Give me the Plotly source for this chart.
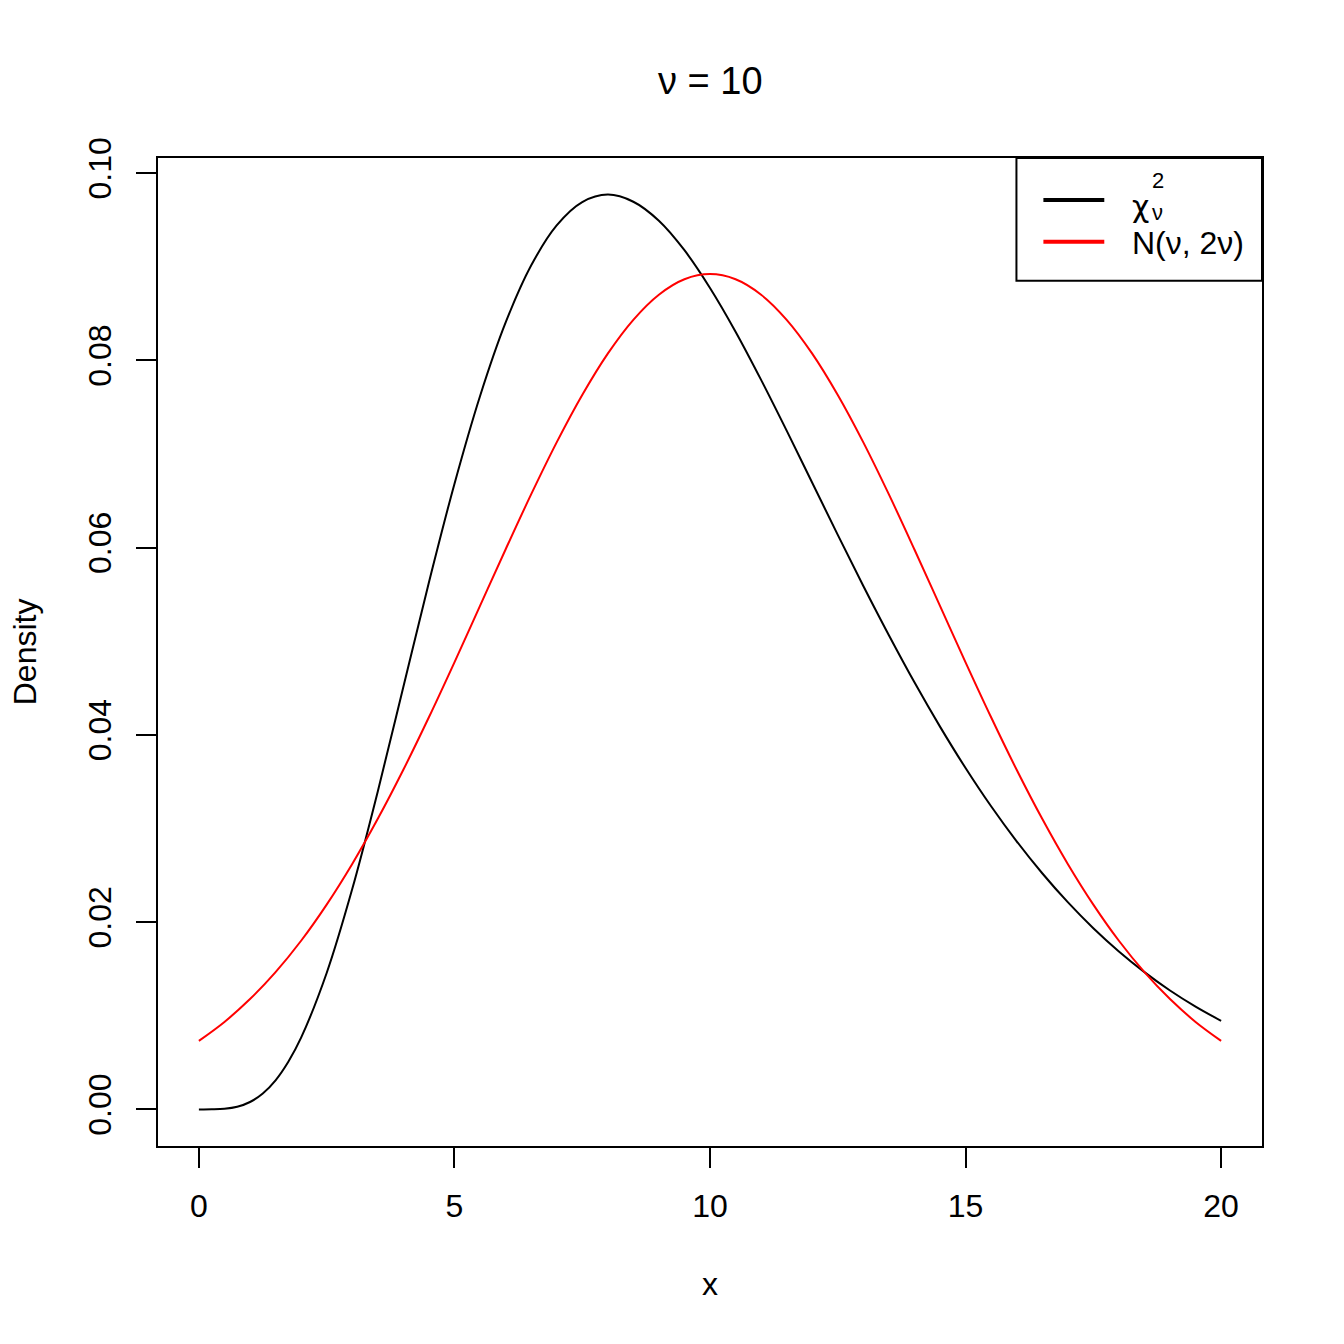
import plotly.graph_objects as go

# 读图估计的密度值
chisq_x = [0, 0.25, 0.5, 0.75, 1, 1.25, 1.5, 1.75] + [2 + i * 0.5 for i in range(37)]
chisq_dens = [0.0, 0.000005, 0.00006, 0.00028, 0.00079, 0.00170, 0.00311, 0.00509,
              0.00766, 0.01457, 0.02353, 0.03396, 0.04511, 0.05628,
              0.06680, 0.07617, 0.08402, 0.09012, 0.09441, 0.09690, 0.09770, 0.09694, 0.09491, 0.09176,
              0.08773, 0.08306, 0.07791, 0.07249, 0.06693, 0.06136, 0.05590, 0.05064, 0.04561, 0.04088,
              0.03646, 0.03237, 0.02863, 0.02522, 0.02213, 0.01935, 0.01687, 0.01466, 0.01270, 0.01098,
              0.00946]
norm_x = [i * 0.5 for i in range(41)]
norm_half = [0.00732, 0.00934, 0.01178, 0.01466, 0.01801, 0.02187, 0.02621, 0.03103, 0.03627, 0.04188,
             0.04775, 0.05378, 0.05980, 0.06568, 0.07124, 0.07630, 0.08072, 0.08433, 0.08701, 0.08866,
             0.08921]
norm_dens = norm_half + norm_half[-2::-1]

x_ticks = [0, 5, 10, 15, 20]
y_ticks = [0.0, 0.02, 0.04, 0.06, 0.08, 0.10]
y_tick_text = ['0.00', '0.02', '0.04', '0.06', '0.08', '0.10']

FONT = 'Liberation Sans'
W, H = 1344, 1344
L, R, T, B = 157, 1263, 157, 1147
OFF = 7  # 页面自带的偏移


def px(x):
    return (x - L) / (R - L)


def py(y):
    return (B - y) / (B - T)


fig = go.Figure()
fig.add_trace(go.Scatter(x=chisq_x, y=chisq_dens, mode='lines', line=dict(color='black', width=2, shape='spline')))
fig.add_trace(go.Scatter(x=norm_x, y=norm_dens, mode='lines', line=dict(color='red', width=2, shape='spline')))

axis_common = dict(showgrid=False, zeroline=False, showline=True, linecolor='black', linewidth=2,
                   mirror=True, ticks='outside', ticklen=20, tickwidth=2, tickcolor='black',
                   tickfont=dict(family=FONT, size=32, color='black'))

fig.update_layout(
    width=W, height=H,
    margin=dict(l=L - OFF, r=W - R + OFF + 2, t=T - OFF, b=H - B + OFF + 2),
    plot_bgcolor='white', paper_bgcolor='white',
    showlegend=False,
    xaxis=dict(range=[-0.8, 20.8], tickvals=x_ticks, ticklabelstandoff=11, **axis_common),
    yaxis=dict(range=[-0.00391, 0.10161], tickvals=y_ticks, ticktext=y_tick_text,
               tickangle=-90, ticklabelstandoff=12, **axis_common),
)

ann_font = dict(family=FONT, size=32, color='black')
small_font = dict(family=FONT, size=22, color='black')
annotations = [
    dict(text='ν = 10', x=px(710), y=py(80), font=dict(family=FONT, size=38, color='black')),
    dict(text='x', x=px(710), y=py(1285), font=ann_font),
    dict(text='Density', x=px(24), y=py(652), textangle=-90, font=ann_font),
    # 图例文字
    dict(text='χ', x=px(1131), y=py(206), xanchor='left', font=dict(family='DejaVu Sans', size=30, color='black')),
    dict(text='2', x=px(1151), y=py(180), xanchor='left', font=small_font),
    dict(text='ν', x=px(1151), y=py(212), xanchor='left', font=small_font),
    dict(text='N(ν, 2ν)', x=px(1131), y=py(242), xanchor='left', font=ann_font),
]
for a in annotations:
    a.setdefault('xanchor', 'center')
    fig.add_annotation(xref='paper', yref='paper', yanchor='middle', showarrow=False, **a)

# 图例框和线段
fig.add_shape(type='rect', xref='paper', yref='paper', x0=px(1017), x1=px(R), y0=py(280), y1=py(T),
              line=dict(color='black', width=2), fillcolor='white', layer='above')
fig.add_shape(type='line', xref='paper', yref='paper', x0=px(1044), x1=px(1105), y0=py(199), y1=py(199),
              line=dict(color='black', width=4))
fig.add_shape(type='line', xref='paper', yref='paper', x0=px(1044), x1=px(1105), y0=py(241), y1=py(241),
              line=dict(color='red', width=4))

fig.write_html("out.html")
